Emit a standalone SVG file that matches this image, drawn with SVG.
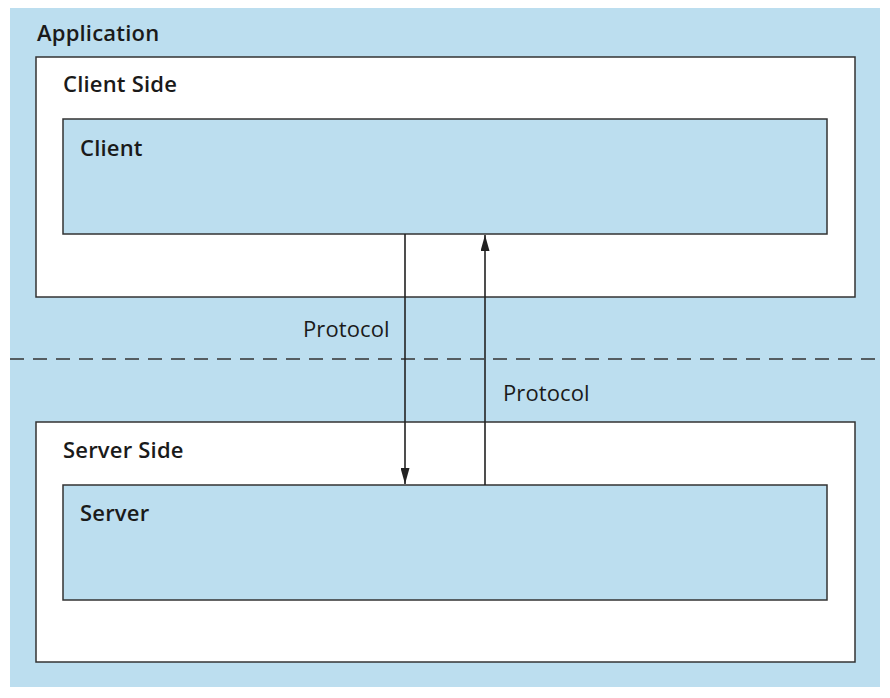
<svg xmlns="http://www.w3.org/2000/svg" width="890" height="698" viewBox="0 0 890 698">
<defs>
<style>
.bg{fill:#bcdeef}
.box{fill:#ffffff;stroke:#333;stroke-width:1.5}
.inner{fill:#bcdeef;stroke:#333;stroke-width:1.5}
.title{font-family:"Open Sans","Liberation Sans",sans-serif;font-weight:600;font-size:22px;letter-spacing:0.2px;fill:#1a1a1a}
.lbl{font-family:"Open Sans","Liberation Sans",sans-serif;font-size:22px;letter-spacing:0.1px;fill:#1a1a1a}
.conn{stroke:#222;stroke-width:1.6;fill:none}
</style>
<marker id="arr" viewBox="0 0 16 9" refX="16" refY="4.5" markerWidth="16" markerHeight="9" orient="auto" markerUnits="userSpaceOnUse">
<path d="M0,0 L16,4.5 L0,9 Z" fill="#222"/>
</marker>
</defs>
<rect class="bg" x="10" y="8" width="870" height="679"/>
<text class="title" x="37" y="41">Application</text>
<g id="client-side">
<rect class="box" x="36" y="57" width="819" height="240"/>
<text class="title" x="63" y="92">Client Side</text>
</g>
<g id="client">
<rect class="inner" x="63" y="119" width="764" height="115"/>
<text class="title" x="80" y="156">Client</text>
</g>
<g id="server-side">
<rect class="box" x="36" y="422" width="819" height="240"/>
<text class="title" x="63" y="458">Server Side</text>
</g>
<g id="server">
<rect class="inner" x="63" y="485" width="764" height="115"/>
<text class="title" x="80" y="521">Server</text>
</g>
<line x1="10" y1="359" x2="880" y2="359" stroke="#333" stroke-width="1.5" stroke-dasharray="14,9"/>
<g id="connectors">
<line class="conn" x1="405" y1="234" x2="405" y2="484" marker-end="url(#arr)"/>
<line class="conn" x1="485" y1="485" x2="485" y2="235" marker-end="url(#arr)" stroke-width="1.3"/>
<text class="lbl" x="303" y="337">Protocol</text>
<text class="lbl" x="503" y="401">Protocol</text>
</g>
</svg>
